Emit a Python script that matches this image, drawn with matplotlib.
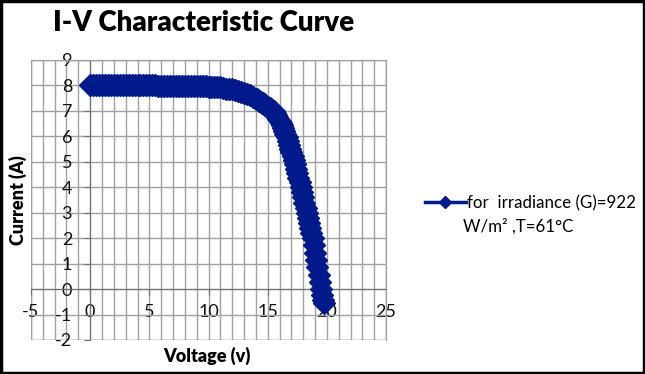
import matplotlib.pyplot as plt
from matplotlib.patches import Rectangle
from matplotlib.ticker import MultipleLocator

plt.rcParams['font.family'] = ['Lato', 'DejaVu Sans']
plt.rcParams['axes.unicode_minus'] = False

# measured I-V points (voltage in V, current in A)
voltage = [
    0.0, 0.25, 0.5, 0.75, 1.0, 1.25, 1.5, 1.75, 2.0, 2.25, 2.5, 2.75, 3.0, 3.25,
    3.5, 3.75, 4.0, 4.25, 4.5, 4.75, 5.0, 5.25, 5.5, 5.75, 6.0, 6.25, 6.5, 6.75,
    7.0, 7.25, 7.5, 7.75, 8.0, 8.25, 8.5, 8.75, 9.0, 9.25, 9.5, 9.75, 10.0,
    10.25, 10.5, 10.75, 11.0, 11.25, 11.5, 11.75, 12.0, 12.25, 12.5, 12.75,
    13.0, 13.25, 13.5, 13.75, 14.0,
    14.1, 14.2, 14.3, 14.4, 14.5, 14.6, 14.7, 14.8, 14.9, 15.0,
    15.1, 15.2, 15.3, 15.4, 15.5, 15.6, 15.7, 15.8, 15.9, 16.0,
    16.1, 16.2, 16.3, 16.4, 16.5, 16.6, 16.7, 16.8, 16.9, 17.0,
    17.1, 17.2, 17.3, 17.4, 17.5, 17.6, 17.7, 17.8, 17.9, 18.0,
    18.1, 18.2, 18.3, 18.4, 18.5, 18.6, 18.7, 18.8, 18.9, 19.0,
    19.1, 19.2, 19.3, 19.4, 19.5, 19.6, 19.7, 19.75,
]
current = [
    8.00, 8.00, 8.00, 8.00, 8.00, 8.00, 8.00, 8.00, 8.00, 8.00, 8.00, 8.00, 8.00, 8.00,
    8.00, 8.00, 8.00, 8.00, 8.00, 8.00, 8.00, 8.00, 8.00, 7.99, 7.99, 7.99, 7.99, 7.99,
    7.99, 7.98, 7.98, 7.98, 7.98, 7.98, 7.98, 7.97, 7.97, 7.97, 7.96, 7.96, 7.95,
    7.95, 7.94, 7.93, 7.92, 7.90, 7.88, 7.87, 7.85, 7.82, 7.79, 7.76,
    7.72, 7.67, 7.62, 7.55, 7.48,
    7.45, 7.42, 7.39, 7.36, 7.33, 7.30, 7.27, 7.24, 7.20, 7.17,
    7.13, 7.10, 7.06, 7.02, 6.98, 6.92, 6.85, 6.78, 6.70, 6.62,
    6.53, 6.43, 6.32, 6.21, 6.09, 5.97, 5.83, 5.67, 5.52, 5.37,
    5.22, 5.07, 4.91, 4.73, 4.55, 4.37, 4.19, 4.00, 3.80, 3.60,
    3.40, 3.20, 3.00, 2.80, 2.60, 2.40, 2.20, 2.00, 1.72, 1.43,
    1.14, 0.86, 0.57, 0.29, 0.00, -0.22, -0.44, -0.55,
]
label_line1 = 'for  irradiance (G)=922'
label_line2 = 'W/m² ,T=61°C'

NAVY = '#001a8c'
GRID = '#a0a0a0'

fig = plt.figure(figsize=(6.45, 3.74), dpi=100)
ax = fig.add_axes([31 / 645, 1 - 340 / 374, 355 / 645, 280 / 374])

ax.plot(voltage, current, color=NAVY, lw=2.5, marker='D', ms=11.5,
        mec=NAVY, mfc=NAVY, label=label_line1, zorder=3)

ax.set_xlim(-5, 25)
ax.set_ylim(-2, 9)
ax.xaxis.set_major_locator(MultipleLocator(5))
ax.xaxis.set_minor_locator(MultipleLocator(1))
ax.yaxis.set_major_locator(MultipleLocator(1))
ax.grid(which='both', axis='x', color=GRID, lw=1)
ax.grid(which='major', axis='y', color=GRID, lw=1)
ax.set_axisbelow(True)

for side in ['top', 'right']:
    ax.spines[side].set_color(GRID)
ax.spines['left'].set_position(('data', 0))
ax.spines['bottom'].set_position(('data', 0))
ax.spines['left'].set_color('#6f6f6f')
ax.spines['bottom'].set_color('#6f6f6f')
# outer frame of the plot area
ax.add_patch(Rectangle((0, 0), 1, 1, transform=ax.transAxes, fill=False,
                       ec=GRID, lw=1, zorder=0.5))

ax.tick_params(which='major', length=4, color='#6f6f6f', labelsize=13,
               labelcolor='#111111')
ax.tick_params(axis='x', which='major', pad=7)
ax.tick_params(axis='y', which='major', pad=9)
ax.tick_params(which='minor', length=0)

fig.text(207 / 645, 1 - 356 / 374, 'Voltage (v)', ha='center', va='center',
         fontsize=13, fontweight='heavy')
fig.text(18 / 645, 1 - 200 / 374, 'Current (A)', ha='center', va='center',
         rotation=90, fontsize=13, fontweight='heavy')
fig.text(204 / 645, 1 - 23 / 374, 'I-V Characteristic Curve', ha='center',
         va='center', fontsize=20, fontweight='heavy')

leg = fig.legend(loc='center left', bbox_to_anchor=(425 / 645, 1 - 203 / 374),
                 frameon=False, fontsize=12.2, borderpad=0, borderaxespad=0,
                 handlelength=2.4, handletextpad=0.1)
leg.legend_handles[0].set_markersize(6)
fig.text(463 / 645, 1 - 226 / 374, label_line2, ha='left', va='center',
         fontsize=12.2)

fig.patches.append(Rectangle((0.002, 0.003), 0.996, 0.994, transform=fig.transFigure,
                             fill=False, ec='black', lw=2.5))

plt.savefig('out.png', dpi=100)
plt.close()
